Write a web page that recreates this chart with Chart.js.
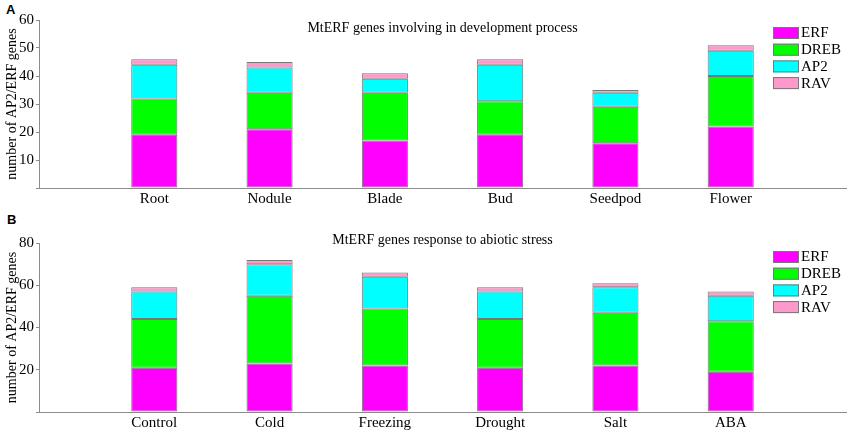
<!DOCTYPE html>
<html>
  <head>
    <title>MtERF genes</title>
    <meta charset="utf-8" />
    <style>
      body { margin: 0; background: #fff; width: 851px; height: 435px; position: relative; overflow: hidden; }
      .panel { position: absolute; left: 0; width: 851px; }
      .letter { position: absolute; font: bold 13px "Liberation Sans", Arial, sans-serif; color: #000; }
    </style>
  </head>
  <body>
    <div class="letter" style="left:6px; top:2px;">A</div>
    <div class="letter" style="left:7px; top:212px;">B</div>
    <div class="panel" style="top:0; height:214px;"><canvas id="dev-chart"></canvas></div>
    <div class="panel" style="top:214px; height:221px;"><canvas id="stress-chart"></canvas></div>

    <script src="https://cdn.jsdelivr.net/npm/chart.js"></script>
    <script>
      // panel A: development
      var devCats = ["Root", "Nodule", "Blade", "Bud", "Seedpod", "Flower"];
      var devERF = [19, 21, 17, 19, 16, 22];
      var devDREB = [13, 13, 17, 12, 13, 18];
      var devAP2 = [12, 9, 5, 13, 5, 9];
      var devRAV = [2, 2, 2, 2, 1, 2];

      // panel B: abiotic stress
      var stressCats = ["Control", "Cold", "Freezing", "Drought", "Salt", "ABA"];
      var stressERF = [21, 23, 22, 21, 22, 19];
      var stressDREB = [23, 32, 27, 23, 25, 24];
      var stressAP2 = [13, 15, 15, 13, 12, 12];
      var stressRAV = [2, 2, 2, 2, 2, 2];

      var seriesNames = ["ERF", "DREB", "AP2", "RAV"];
      var seriesColors = ["#ff00ff", "#00ff00", "#00ffff", "#ff99cc"];

      var serif = "'Liberation Serif', 'Times New Roman', serif";
      var axisGray = "#8c8c8c";

      // title + legend drawn inside the plot area, like the original figure
      var innerDecor = {
        id: "innerDecor",
        afterDraw: function (chart, args, opts) {
          var ctx = chart.ctx;
          var area = chart.chartArea;
          ctx.save();
          ctx.fillStyle = "#000";
          ctx.font = "14px " + serif;
          ctx.textAlign = "center";
          ctx.textBaseline = "middle";
          ctx.fillText(opts.text, (area.left + area.right) / 2, area.top + opts.titleDy);

          ctx.textAlign = "left";
          ctx.font = "15px " + serif;
          chart.data.datasets.forEach(function (ds, i) {
            var y = area.top + opts.legendDy + i * 16.7;
            ctx.fillStyle = ds.backgroundColor;
            ctx.fillRect(773, y, 26, 12);
            ctx.strokeStyle = "#777";
            ctx.lineWidth = 1;
            ctx.strokeRect(773.5, y + 0.5, 25, 11);
            ctx.fillStyle = "#000";
            ctx.fillText(ds.label, 801, y + 6.5);
          });
          ctx.restore();
        },
      };

      function makeChart(id, cats, values, yMax, step, title, padTop, xHeight, titleDy, legendDy) {
        var datasets = values.map(function (vals, i) {
          return {
            label: seriesNames[i],
            data: [null].concat(vals, [null]),
            backgroundColor: seriesColors[i],
            borderColor: "#777",
            borderWidth: 1,
            borderSkipped: false,
            barPercentage: 0.4,
            categoryPercentage: 1,
          };
        });

        return new Chart(document.getElementById(id), {
          type: "bar",
          data: { labels: [""].concat(cats, [""]), datasets: datasets },
          plugins: [innerDecor],
          options: {
            responsive: true,
            maintainAspectRatio: false,
            animation: false,
            layout: { padding: { left: 0, top: padTop, right: 5, bottom: 0 } },
            plugins: {
              legend: { display: false },
              tooltip: { enabled: false },
              innerDecor: { text: title, titleDy: titleDy, legendDy: legendDy },
            },
            scales: {
              x: {
                stacked: true,
                offset: false,
                grid: { display: false, drawTicks: false },
                border: { display: true, color: axisGray, width: 1 },
                ticks: {
                  color: "#000",
                  font: { family: serif, size: 15 },
                  padding: 2,
                  maxRotation: 0,
                  autoSkip: false,
                },
                afterFit: function (scale) {
                  scale.height = xHeight;
                },
              },
              y: {
                stacked: true,
                min: 0,
                max: yMax,
                grid: { drawOnChartArea: false, drawTicks: true, tickLength: 3, color: axisGray },
                border: { display: true, color: axisGray, width: 1 },
                ticks: {
                  stepSize: step,
                  color: "#000",
                  padding: 2,
                  font: { family: serif, size: 15 },
                  callback: function (v) {
                    return v === 0 ? "" : v;
                  },
                },
                title: {
                  display: true,
                  text: "number of AP2/ERF genes",
                  color: "#000",
                  font: { family: serif, size: 14 },
                  padding: { top: 4, bottom: 0 },
                },
                afterFit: function (scale) {
                  scale.width = 39;
                },
              },
            },
          },
        });
      }

      makeChart("dev-chart", devCats, [devERF, devDREB, devAP2, devRAV], 60, 10,
        "MtERF genes involving in development process", 20, 26, 8, 7);
      makeChart("stress-chart", stressCats, [stressERF, stressDREB, stressAP2, stressRAV], 80, 20,
        "MtERF genes response to abiotic stress", 29, 23, -3, 8);
    </script>
  </body>
</html>
